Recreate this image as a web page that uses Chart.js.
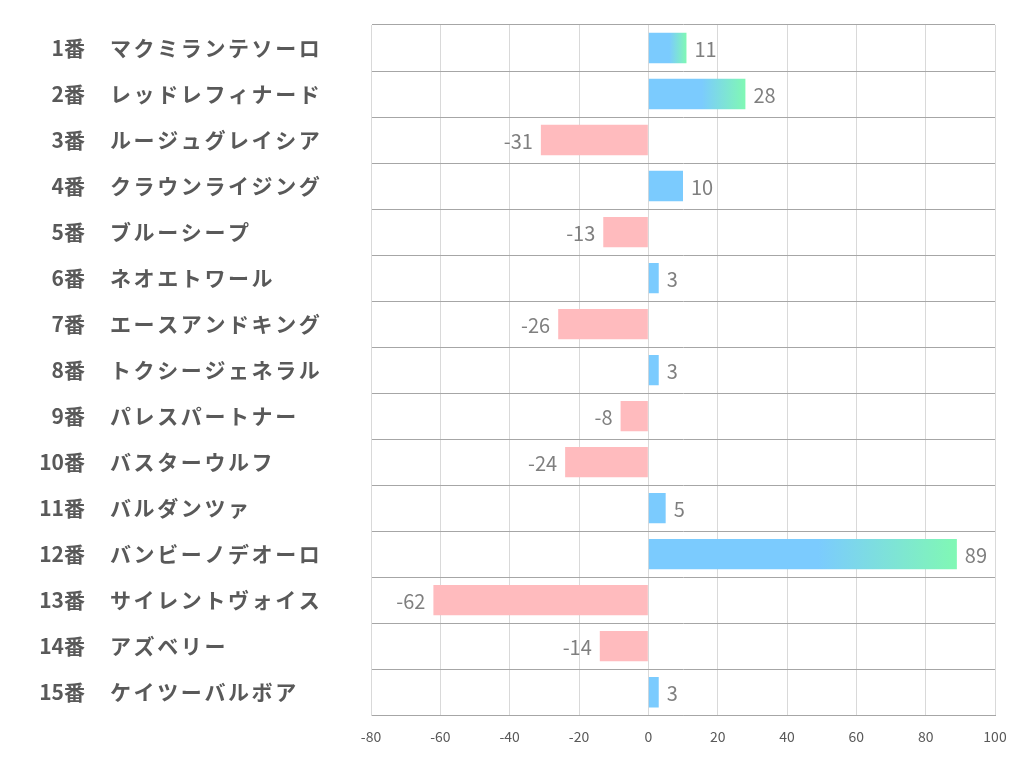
<!DOCTYPE html>
<html>
<head>
<meta charset="utf-8">
<script src="https://cdn.jsdelivr.net/npm/chart.js@4.4.0/dist/chart.umd.js"></script>
<style>
  html, body { margin: 0; padding: 0; background: #fff; }
  #wrap { width: 1022px; height: 782px; }
</style>
</head>
<body>
<div id="wrap"><canvas id="chart" width="1022" height="782"></canvas></div>
<script>
// horse numbers and names
const numbers = ['1番', '2番', '3番', '4番', '5番', '6番', '7番', '8番', '9番', '10番', '11番', '12番', '13番', '14番', '15番'];
const names = [
  'マクミランテソーロ', 'レッドレフィナード', 'ルージュグレイシア', 'クラウンライジング', 'ブルーシープ',
  'ネオエトワール', 'エースアンドキング', 'トクシージェネラル', 'パレスパートナー', 'バスターウルフ',
  'バルダンツァ', 'バンビーノデオーロ', 'サイレントヴォイス', 'アズベリー', 'ケイツーバルボア'
];
const scores = [11, 28, -31, 10, -13, 3, -26, 3, -8, -24, 5, 89, -62, -14, 3];
const xTicks = [-80, -60, -40, -20, 0, 20, 40, 60, 80, 100];

const colors = {
  blue: '#7BCBFE',
  green: '#80F8B4',
  pink: '#FFBBBE',
  label: '#595959',
  value: '#7F7F7F'
};

// bars over 10 fade into green at the tip
function barColor(ctx) {
  const v = ctx.raw;
  if (v < 0) return colors.pink;
  if (v <= 10) return colors.blue;
  const chart = ctx.chart;
  const xs = chart.scales.x;
  if (!xs || !chart.chartArea) return colors.blue;
  const x0 = xs.getPixelForValue(0);
  const x1 = xs.getPixelForValue(v);
  if (!Number.isFinite(x0) || !Number.isFinite(x1)) return colors.blue;
  const g = chart.ctx.createLinearGradient(x0, 0, x1, 0);
  g.addColorStop(0, colors.blue);
  g.addColorStop(0.55, colors.blue);
  g.addColorStop(1, colors.green);
  return g;
}

// two-column row labels on the left
const rowLabels = {
  id: 'rowLabels',
  afterDraw(chart) {
    const c = chart.ctx;
    const ys = chart.scales.y;
    c.save();
    c.fillStyle = colors.label;
    c.font = 'bold 21px "Noto Sans CJK JP"';
    c.textBaseline = 'middle';
    numbers.forEach((n, i) => {
      const y = ys.getPixelForValue(i);
      c.letterSpacing = '0px';
      c.textAlign = 'right';
      c.fillText(n, 85, y);
      c.letterSpacing = '2.6px';
      c.textAlign = 'left';
      c.fillText(names[i], 110, y);
    });
    c.restore();
  }
};

// value labels next to each bar end
const valueLabels = {
  id: 'valueLabels',
  afterDatasetsDraw(chart) {
    const c = chart.ctx;
    const meta = chart.getDatasetMeta(0);
    c.save();
    c.fillStyle = colors.value;
    c.font = '20px "Noto Sans CJK JP"';
    c.textBaseline = 'middle';
    meta.data.forEach((bar, i) => {
      const v = scores[i];
      if (v >= 0) {
        c.textAlign = 'left';
        c.fillText(String(v), bar.x + 8, bar.y + 1);
      } else {
        c.textAlign = 'right';
        c.fillText(String(v), bar.x - 8, bar.y + 1);
      }
    });
    c.restore();
  }
};

new Chart(document.getElementById('chart'), {
  type: 'bar',
  data: {
    labels: names,
    datasets: [{
      data: scores,
      backgroundColor: barColor,
      borderWidth: 0,
      barPercentage: 0.66,
      categoryPercentage: 1
    }]
  },
  options: {
    indexAxis: 'y',
    responsive: false,
    animation: false,
    layout: { padding: { left: 371, right: 27, top: 25, bottom: 24 } },
    plugins: {
      legend: { display: false },
      tooltip: { enabled: false }
    },
    scales: {
      x: {
        min: -80,
        max: 100,
        afterBuildTicks(scale) {
          scale.ticks = xTicks.map(v => ({ value: v }));
        },
        grid: { color: '#D9D9D9', drawTicks: false },
        border: { color: '#A6A6A6' },
        ticks: {
          color: colors.label,
          font: { family: '"Noto Sans CJK JP"', size: 14 },
          padding: 13
        }
      },
      y: {
        grid: { color: '#A6A6A6', drawTicks: false, offset: true },
        border: { color: '#D9D9D9' },
        ticks: { display: false }
      }
    }
  },
  plugins: [rowLabels, valueLabels]
});
</script>
</body>
</html>
